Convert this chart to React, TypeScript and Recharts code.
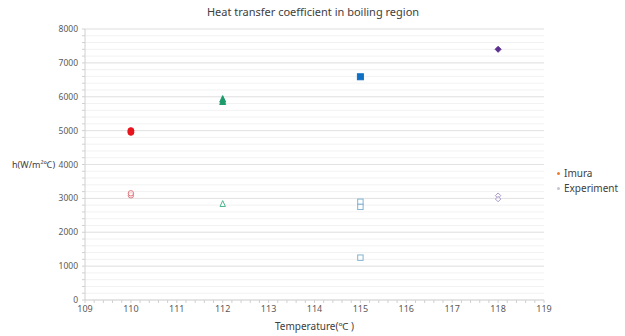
import React from "react";
import {
  ScatterChart,
  Scatter,
  XAxis,
  YAxis,
  CartesianGrid,
  ReferenceLine,
  Legend,
} from "recharts";

// Temperature (°C) / heat transfer coefficient h (W/m²°C) pairs
const imuraTemp = [110, 110, 112, 112, 115, 118];
const imuraH = [4950, 5000, 5860, 5930, 6590, 7400];

const experimentTemp = [110, 110, 112, 115, 115, 115, 118, 118];
const experimentH = [3090, 3150, 2840, 2900, 2750, 1250, 3080, 2980];

const xTickLabels = [109, 110, 111, 112, 113, 114, 115, 116, 117, 118, 119];
const yTickLabels = [0, 1000, 2000, 3000, 4000, 5000, 6000, 7000, 8000];

const seriesNames = ["Imura", "Experiment"];

// minor ticks: 5 per degree on x, 5 per 1000 on y
const xTicks: number[] = [];
for (let i = 0; i <= 50; i++) xTicks.push(Math.round((109 + i * 0.2) * 10) / 10);
const yTicks: number[] = [];
for (let i = 0; i <= 40; i++) yTicks.push(i * 200);

const imuraData = imuraTemp.map((t, i) => ({ temp: t, h: imuraH[i] }));
const experimentData = experimentTemp.map((t, i) => ({ temp: t, h: experimentH[i] }));

type MarkerKind = "circle" | "triangle" | "square" | "diamond";

// each temperature gets its own marker shape and colour
const markerStyle: Record<number, { kind: MarkerKind; solid: string; light: string }> = {
  110: { kind: "circle", solid: "#E8141B", light: "#E07A80" },
  112: { kind: "triangle", solid: "#1E9B6B", light: "#4DB88C" },
  115: { kind: "square", solid: "#1070C4", light: "#82B2D2" },
  118: { kind: "diamond", solid: "#5C2E91", light: "#A898C8" },
};

const legendColors = ["#ED7D31", "#C8C3D3"];

const FONT = "'Noto Sans', 'DejaVu Sans', sans-serif";

function drawMarker(kind: MarkerKind, cx: number, cy: number, r: number, fill: string, stroke: string) {
  if (kind === "circle") {
    return <circle cx={cx} cy={cy} r={r} fill={fill} stroke={stroke} strokeWidth={1} />;
  }
  if (kind === "square") {
    return (
      <rect x={cx - r} y={cy - r} width={r * 2} height={r * 2} fill={fill} stroke={stroke} strokeWidth={1} />
    );
  }
  if (kind === "triangle") {
    const pts = `${cx},${cy - r - 0.5} ${cx + r},${cy + r} ${cx - r},${cy + r}`;
    return <polygon points={pts} fill={fill} stroke={stroke} strokeWidth={1} />;
  }
  const pts = `${cx},${cy - r} ${cx + r},${cy} ${cx},${cy + r} ${cx - r},${cy}`;
  return <polygon points={pts} fill={fill} stroke={stroke} strokeWidth={1} />;
}

const solidShape = (props: any) => {
  const st = markerStyle[props.payload.temp];
  return <g>{drawMarker(st.kind, props.cx, props.cy, 3, st.solid, st.solid)}</g>;
};

const hollowShape = (props: any) => {
  const st = markerStyle[props.payload.temp];
  return <g>{drawMarker(st.kind, props.cx, props.cy, 2.7, "rgba(255,255,255,0.6)", st.light)}</g>;
};

const renderLegend = () => (
  <div style={{ fontFamily: FONT, fontSize: 10, color: "#404040", lineHeight: "15px" }}>
    {seriesNames.map((name, i) => (
      <div key={name} style={{ display: "flex", alignItems: "center" }}>
        <span
          style={{
            display: "inline-block",
            width: 3,
            height: 3,
            borderRadius: 2,
            background: legendColors[i],
            marginRight: 4,
          }}
        />
        {name}
      </div>
    ))}
  </div>
);

export default function App() {
  return (
    <div style={{ position: "absolute", left: 0, top: 0, width: 625, height: 336, background: "#fff" }}>
      <ScatterChart
        width={625}
        height={336}
        margin={{ top: 29, right: 81, bottom: 0, left: 10 }}
        style={{ fontFamily: FONT }}
      >
        <text x={313} y={16} textAnchor="middle" fontSize={11} fill="#404040" fontFamily={FONT}>
          Heat transfer coefficient in boiling region
        </text>
        <CartesianGrid vertical={false} stroke="#F2F2F2" />
        {yTickLabels.slice(1).map((v) => (
          <ReferenceLine key={v} y={v} stroke="#E3E3E3" ifOverflow="extendDomain" />
        ))}
        <XAxis
          type="number"
          dataKey="temp"
          domain={[109, 119]}
          ticks={xTicks}
          interval={0}
          tickFormatter={(v: number) => (xTickLabels.includes(v) ? String(v) : "")}
          tickSize={3}
          tickMargin={3}
          height={36}
          stroke="#D0D0D0"
          tick={{ fontSize: 9, fill: "#595959" }}
          allowDecimals
          label={{
            value: "Temperature(℃ )",
            position: "insideBottom",
            offset: 6,
            fontSize: 10,
            fill: "#404040",
          }}
        />
        <YAxis
          type="number"
          dataKey="h"
          domain={[0, 8000]}
          ticks={yTicks}
          interval={0}
          tickFormatter={(v: number) => (yTickLabels.includes(v) ? String(v) : "")}
          tickSize={3}
          tickMargin={4}
          width={75}
          stroke="#D0D0D0"
          tick={{ fontSize: 8.5, fill: "#595959" }}
          label={{
            value: "h(W/m²℃)",
            position: "insideLeft",
            offset: 2,
            fontSize: 9,
            fill: "#404040",
          }}
        />
        <Legend
          layout="vertical"
          align="center"
          verticalAlign="middle"
          content={renderLegend}
          wrapperStyle={{ left: 557, top: 166, width: 70 }}
        />
        <Scatter name={seriesNames[0]} data={imuraData} fill={legendColors[0]} shape={solidShape} isAnimationActive={false} />
        <Scatter name={seriesNames[1]} data={experimentData} fill={legendColors[1]} shape={hollowShape} isAnimationActive={false} />
      </ScatterChart>
    </div>
  );
}
